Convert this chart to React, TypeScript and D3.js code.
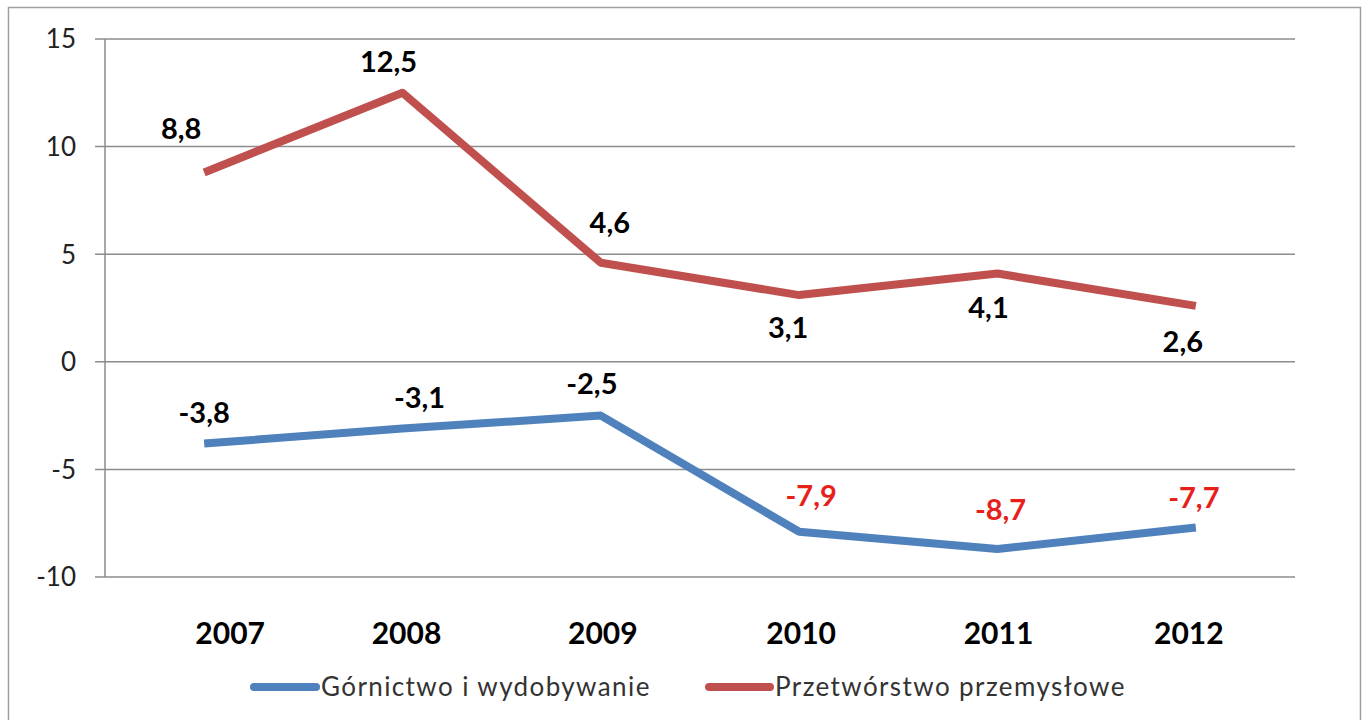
import React from "react";
import * as d3 from "d3";

const years = ["2007", "2008", "2009", "2010", "2011", "2012"];
const gornictwo = [-3.8, -3.1, -2.5, -7.9, -8.7, -7.7];
const przetworstwo = [8.8, 12.5, 4.6, 3.1, 4.1, 2.6];
const yTicks = [15, 10, 5, 0, -5, -10];
const seriesNames = ["Górnictwo i wydobywanie", "Przetwórstwo przemysłowe"];

// label nudges relative to the point (dx, dy in px), as placed in the original
const nudgeP: [number, number][] = [[-23, -33], [-14, -21], [9, -30], [-11, 43], [-9, 44], [-13, 46]];
const nudgeG: [number, number][] = [[0, -21], [17, -21], [-9, -22], [12, -26], [3, -29], [-2, -20]];
const yearNudge = [26, 4, 2, 2, 1, -7];

const W = 1362;
const H = 720;
const m = { left: 105, right: 1295, top: 39, bottom: 577 };
const FONT = "Lato, 'Open Sans', sans-serif";
const BLUE = "#4F81BD";
const RED = "#C0504D";

const fmt = (v: number) => String(v).replace(".", ",");

export default function App() {
  const x = d3.scaleBand<string>().domain(years).range([m.left, m.right]);
  const y = d3.scaleLinear().domain([-10, 15]).range([m.bottom, m.top]);
  const cx = (yr: string) => (x(yr) as number) + x.bandwidth() / 2;
  const line = d3
    .line<number>()
    .x((_, i) => cx(years[i]))
    .y((d) => y(d));

  return (
    <svg
      width={W}
      height={H}
      style={{ position: "absolute", left: 0, top: 0, background: "#fff" }}
    >
      <rect x={8.5} y={7.5} width={1352} height={720} fill="#fff" stroke="#a0a0a0" strokeWidth={1.5} />
      {yTicks.map((t) => (
        <g key={t}>
          <line x1={m.left - 10} x2={m.right} y1={y(t)} y2={y(t)} stroke="#8c8c8c" strokeWidth={1.5} />
          <text x={76} y={y(t)} dy="0.36em" textAnchor="end" fontFamily={FONT} fontSize={26} fill="#222">
            {t}
          </text>
        </g>
      ))}
      <line x1={m.left} x2={m.left} y1={m.top} y2={m.bottom} stroke="#8c8c8c" strokeWidth={1.5} />
      {years.map((yr, i) => (
        <text key={yr} x={cx(yr) + yearNudge[i]} y={644} textAnchor="middle" fontFamily={FONT} fontWeight="bold" fontSize={30} fill="#000">
          {yr}
        </text>
      ))}
      <path d={line(przetworstwo) || ""} fill="none" stroke={RED} strokeWidth={8} strokeLinejoin="round" />
      <path d={line(gornictwo) || ""} fill="none" stroke={BLUE} strokeWidth={8} strokeLinejoin="round" />
      {przetworstwo.map((v, i) => (
        <text
          key={"p" + i}
          x={cx(years[i]) + nudgeP[i][0]}
          y={y(v) + nudgeP[i][1]}
          textAnchor="middle"
          fontFamily={FONT}
          fontWeight="bold"
          fontSize={29}
          fill="#000"
        >
          {fmt(v)}
        </text>
      ))}
      {gornictwo.map((v, i) => (
        <text
          key={"g" + i}
          x={cx(years[i]) + nudgeG[i][0]}
          y={y(v) + nudgeG[i][1]}
          textAnchor="middle"
          fontFamily={FONT}
          fontWeight="bold"
          fontSize={29}
          fill={v < -5 ? "#E8201A" : "#000"}
        >
          {fmt(v)}
        </text>
      ))}
      <line x1={254} x2={316} y1={687} y2={687} stroke={BLUE} strokeWidth={8} strokeLinecap="round" />
      <text x={321} y={687} dy="0.36em" fontFamily={FONT} fontSize={26} letterSpacing={1.4} fill="#333">
        {seriesNames[0]}
      </text>
      <line x1={709} x2={770} y1={687} y2={687} stroke={RED} strokeWidth={8} strokeLinecap="round" />
      <text x={775} y={687} dy="0.36em" fontFamily={FONT} fontSize={26} letterSpacing={1.4} fill="#333">
        {seriesNames[1]}
      </text>
    </svg>
  );
}
